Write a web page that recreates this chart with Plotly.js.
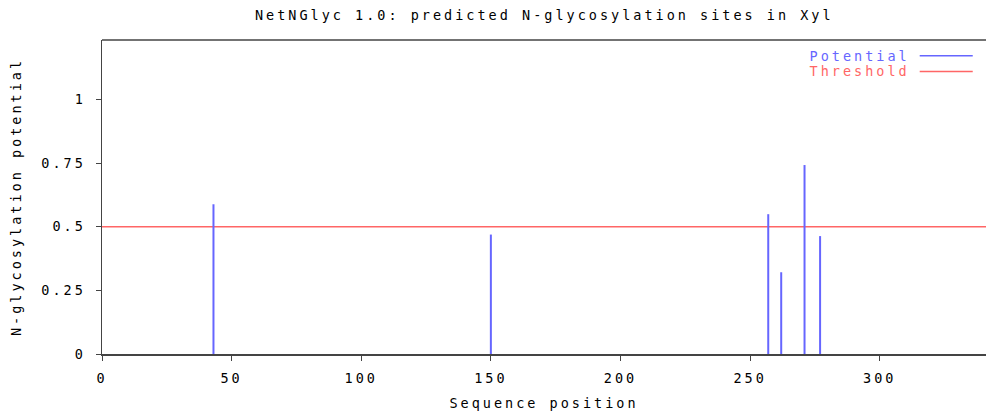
<!DOCTYPE html>
<html>
<head>
<meta charset="utf-8">
<script src="https://cdn.plot.ly/plotly-3.0.1.min.js"></script>
<style>
html,body{margin:0;padding:0;background:#fff;}
#chart{width:986px;height:411px;}
.main-svg text{letter-spacing:3px;}
</style>
</head>
<body>
<div id="chart"></div>
<script>
const positions = [43, 150, 257, 262, 271, 277];
const potentials = [0.588, 0.469, 0.549, 0.321, 0.742, 0.463];
const seqLength = 341;
const thresholdValue = 0.5;
const xTicks = [0, 50, 100, 150, 200, 250, 300];
const yTicks = [0, 0.25, 0.5, 0.75, 1];
const yTickLabels = ['0', '0.25', '0.5', '0.75', '1'];

const fontFam = '"DejaVu Sans Mono", monospace';
const blue = '#6666ff';
const red = '#ff6666';

const sx = [], sy = [];
positions.forEach((p, i) => { sx.push(p, p, null); sy.push(0, potentials[i], null); });

const traces = [
  {x: [0, seqLength], y: [thresholdValue, thresholdValue], mode: 'lines',
   line: {color: red, width: 1.5}, hoverinfo: 'skip', showlegend: false},
  {x: sx, y: sy, mode: 'lines', line: {color: blue, width: 2},
   hoverinfo: 'skip', showlegend: false}
];

const layout = {
  width: 986, height: 411,
  margin: {l: 102, r: 0, t: 40, b: 57},
  paper_bgcolor: '#fff', plot_bgcolor: '#fff',
  font: {family: fontFam, size: 13, color: '#000'},
  showlegend: false,
  title: {text: 'NetNGlyc 1.0: predicted N-glycosylation sites in Xyl',
          font: {family: fontFam, size: 13.5, color: '#000'},
          x: 0.552, xanchor: 'center', y: 0.962, yanchor: 'middle'},
  xaxis: {range: [0, seqLength], tickvals: xTicks, ticktext: xTicks.map(String),
          showgrid: false, zeroline: false, showline: true, linecolor: '#444', linewidth: 1.5,
          mirror: false, ticks: 'outside', ticklen: 5, tickcolor: '#444',
          ticklabelstandoff: 6,
          tickfont: {family: fontFam, size: 13.5},
          title: {text: 'Sequence position', font: {family: fontFam, size: 13.5}, standoff: 16}},
  yaxis: {range: [0, 1.233], tickvals: yTicks, ticktext: yTickLabels,
          showgrid: false, zeroline: false, showline: true, linecolor: '#444', linewidth: 1.5,
          ticks: 'outside', ticklen: 5, tickcolor: '#444',
          ticklabelstandoff: 7,
          tickfont: {family: fontFam, size: 13.5},
          title: {text: 'N-glycosylation potential', font: {family: fontFam, size: 13.5}, standoff: 28}},
  shapes: [
    {type: 'line', xref: 'paper', yref: 'paper', x0: 0, x1: 1, y0: 1, y1: 1,
     line: {color: '#444', width: 1.5}},
    {type: 'line', xref: 'paper', yref: 'paper', x0: 0.925, x1: 0.985, y0: 0.95, y1: 0.95,
     line: {color: blue, width: 1.5}},
    {type: 'line', xref: 'paper', yref: 'paper', x0: 0.925, x1: 0.985, y0: 0.9, y1: 0.9,
     line: {color: red, width: 1.5}}
  ],
  annotations: [
    {xref: 'paper', yref: 'paper', x: 0.9, y: 0.95, xanchor: 'right', yanchor: 'middle',
     text: 'Potential', showarrow: false, font: {family: fontFam, size: 13.5, color: blue}},
    {xref: 'paper', yref: 'paper', x: 0.9, y: 0.9, xanchor: 'right', yanchor: 'middle',
     text: 'Threshold', showarrow: false, font: {family: fontFam, size: 13.5, color: red}}
  ]
};

Plotly.newPlot('chart', traces, layout, {displayModeBar: false, staticPlot: true});
</script>
</body>
</html>
